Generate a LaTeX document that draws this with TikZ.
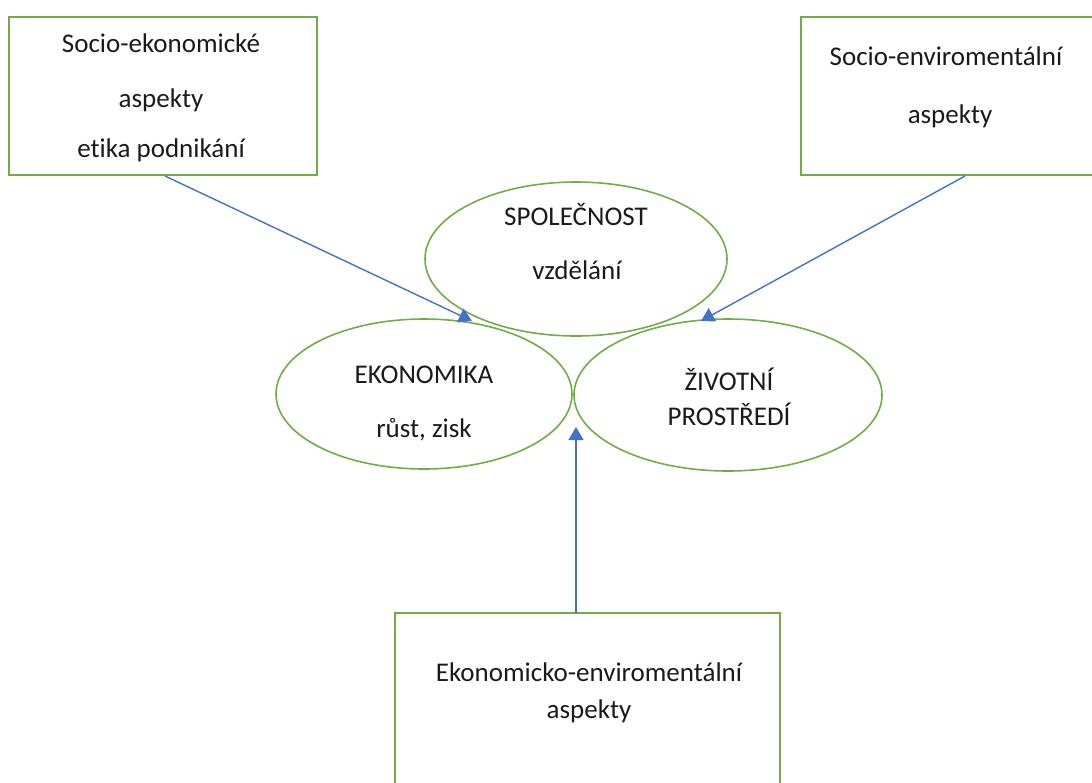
\documentclass[tikz,border=0pt]{standalone}
\usepackage{fontspec}
\setmainfont[Ligatures=NoCommon]{Carlito}
\usetikzlibrary{arrows.meta}
\definecolor{grn}{HTML}{70AD47}
\definecolor{blu}{HTML}{4472C4}
\definecolor{txt}{HTML}{1A1A1A}
\begin{document}
\begin{tikzpicture}[x=1pt,y=-1pt,
  gbox/.style={draw=grn,line width=1.6pt},
  lbl/.style={font=\fontsize{27}{32}\selectfont,text=txt,inner sep=0pt,anchor=base},
  conn/.style={draw=blu,line width=1.4pt,-{Triangle[length=13pt,width=15pt]}}]
\useasboundingbox (0,0) rectangle (1092,782);
% boxes
\draw[gbox] (9,17) rectangle (317,175);
\draw[gbox] (801,17) rectangle (1100,175);
\draw[gbox] (395,613) rectangle (780,800);
% ellipses
\draw[gbox] (576,259) ellipse [x radius=151, y radius=77];
\draw[gbox] (424,394) ellipse [x radius=148, y radius=75];
\draw[gbox] (728,395) ellipse [x radius=154, y radius=76];
% texts
\node[lbl] (t1a) at (161,52) {Socio-ekonomické};
\node[lbl] (t1b) at (161,107) {aspekty};
\node[lbl] (t1c) at (161,157) {etika podnikání};
\node[lbl] (t2a) at (946,65) {Socio-enviromentální};
\node[lbl] (t2b) at (950,123) {aspekty};
\node[lbl] (t3a) at (589,681) {Ekonomicko-enviromentální};
\node[lbl] (t3b) at (589,718) {aspekty};
\node[lbl] (s1) at (576,225) {SPOLEČNOST};
\node[lbl] (s2) at (577,279) {vzdělání};
\node[lbl] (e1) at (424,383) {EKONOMIKA};
\node[lbl] (e2) at (424,437) {růst, zisk};
\node[lbl] (z1) at (729,390) {ŽIVOTNÍ};
\node[lbl] (z2) at (729,425) {PROSTŘEDÍ};
% connector anchors
\coordinate (a1) at (165,176);
\coordinate (b1) at (472,321);
\coordinate (a2) at (965,176);
\coordinate (b2) at (701,321);
\coordinate (a3) at (576,613);
\coordinate (b3) at (576,427);
\draw[conn] (a1) -- (b1);
\draw[conn] (a2) -- (b2);
\draw[conn] (a3) -- (b3);
\end{tikzpicture}
\end{document}
